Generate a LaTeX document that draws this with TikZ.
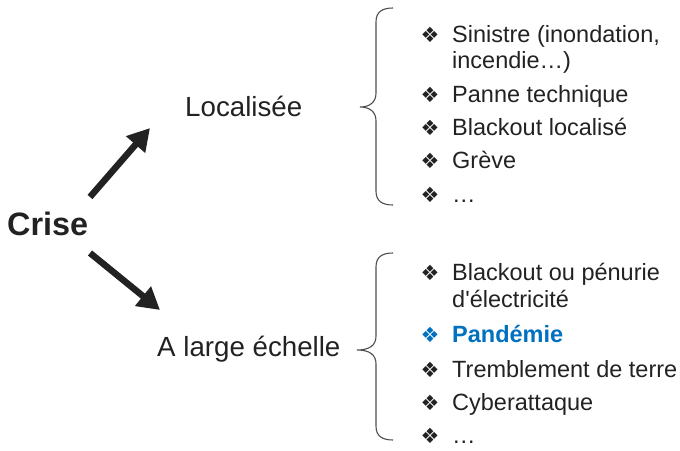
\documentclass[tikz,border=0pt]{standalone}
\usepackage{fontspec}
\setmainfont{Liberation Sans}
\newfontfamily\symfont{DejaVu Sans}
\usetikzlibrary{arrows.meta}
\definecolor{ink}{HTML}{222222}
\definecolor{accent}{HTML}{0070C0}
\begin{document}
\begin{tikzpicture}[x=1pt,y=-1pt,
  lbl/.style={anchor=base west, inner sep=0pt, text=ink, font=\fontsize{27.7}{30}\selectfont},
  item/.style={anchor=base west, inner sep=0pt, text=ink, font=\fontsize{23.5}{26.5}\selectfont},
  bul/.style={anchor=center, inner sep=0pt, text=ink, font=\symfont\fontsize{21}{21}\selectfont},
  brace/.style={draw=ink!80, line width=1.1pt},
  bigarrow/.style={draw=ink, line width=6.5pt, -{Triangle[length=22pt,width=24pt]}}]
\useasboundingbox (0,0) rectangle (680,450);

% root and the two branches
\node[lbl, font=\bfseries\fontsize{32.4}{34}\selectfont] (crise) at (7,235) {Crise};
\node[lbl] (loc) at (185,116) {Localisée};
\node[lbl] (large) at (157,356) {A large échelle};

\coordinate (upfrom) at (90,197);
\coordinate (upto) at (150,128);
\coordinate (dnfrom) at (90,253);
\coordinate (dnto) at (160,310);
\draw[bigarrow] (upfrom) -- (upto);
\draw[bigarrow] (dnfrom) -- (dnto);

% braces
\draw[brace] (393,8) .. controls (382,8) and (376,12) .. (376,22) -- (376,93)
  .. controls (376,102) and (370,107) .. (360,107)
  .. controls (370,107) and (376,112) .. (376,121) -- (376,191)
  .. controls (376,201) and (382,205) .. (393,205);
\draw[brace] (393,253) .. controls (382,253) and (376,257) .. (376,267) -- (376,336)
  .. controls (376,345) and (370,350) .. (357,350)
  .. controls (370,350) and (376,355) .. (376,364) -- (376,426)
  .. controls (376,436) and (382,440) .. (393,440);

% local crises
\node[bul] (b1) at (430,35) {❖};
\node[item] (t1) at (452,42) {Sinistre (inondation,};
\node[item] (t1b) at (452,68) {incendie…)};
\node[bul] (b2) at (430,95) {❖};
\node[item] (t2) at (452,102) {Panne technique};
\node[bul] (b3) at (430,128) {❖};
\node[item] (t3) at (452,135) {Blackout localisé};
\node[bul] (b4) at (430,161) {❖};
\node[item] (t4) at (452,168) {Grève};
\node[bul] (b5) at (430,195) {❖};
\node[item] (t5) at (452,202) {…};

% large-scale crises
\node[bul] (c1) at (430,273) {❖};
\node[item] (u1) at (452,280) {Blackout ou pénurie};
\node[item] (u1b) at (452,307) {d\textquotesingle électricité};
\node[bul, text=accent] (c2) at (430,335) {❖};
\node[item, text=accent, font=\bfseries\fontsize{23.5}{26.5}\selectfont] (u2) at (452,342) {Pandémie};
\node[bul] (c3) at (430,370) {❖};
\node[item] (u3) at (452,377) {Tremblement de terre};
\node[bul] (c4) at (430,403) {❖};
\node[item] (u4) at (452,410) {Cyberattaque};
\node[bul] (c5) at (430,436) {❖};
\node[item] (u5) at (452,443) {…};
\end{tikzpicture}
\end{document}
